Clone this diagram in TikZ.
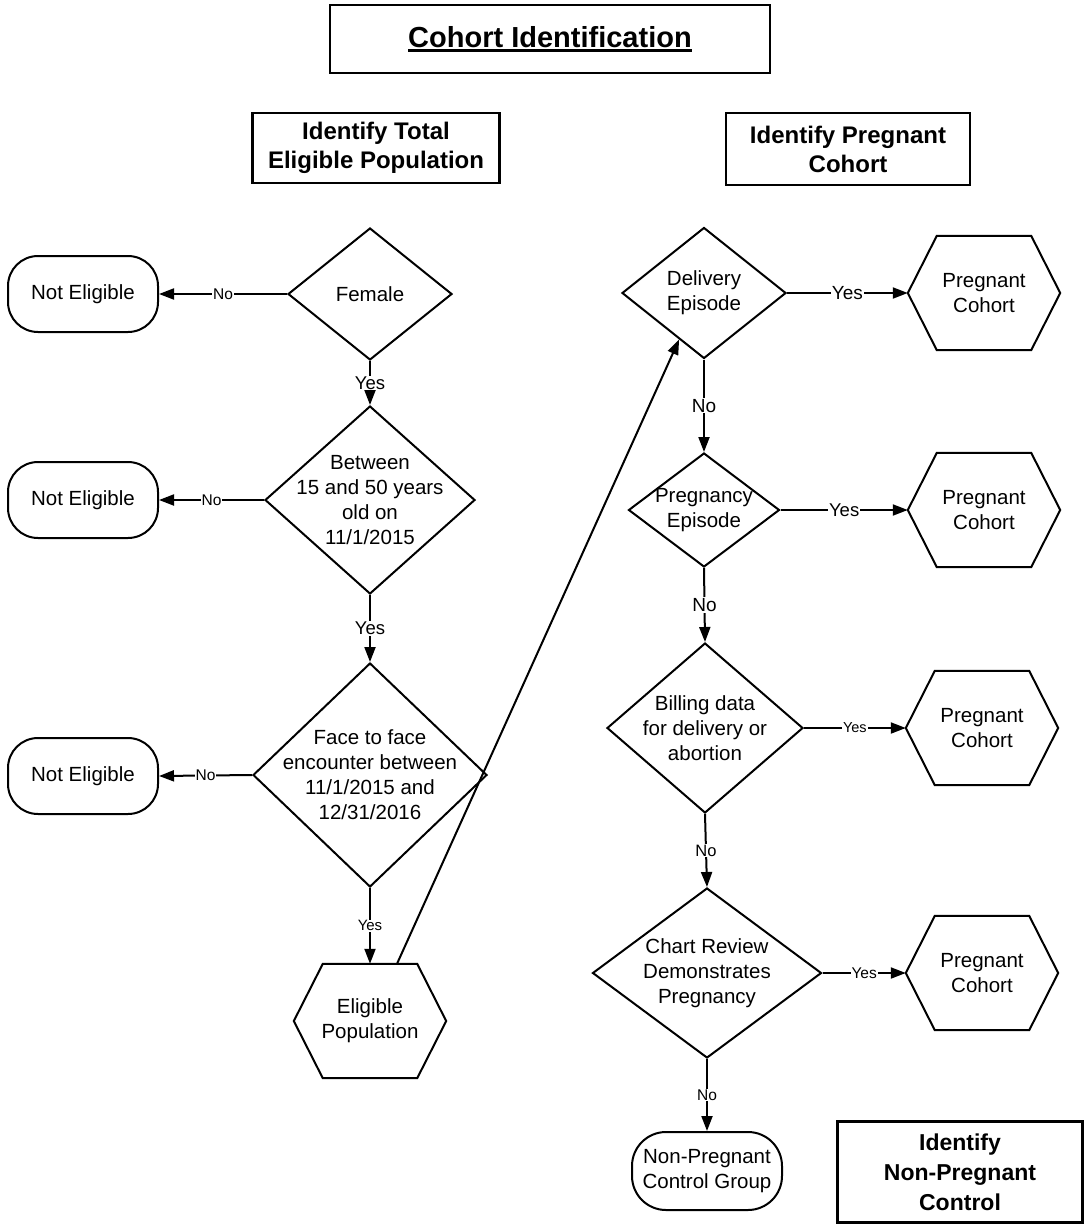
\documentclass[tikz,border=0pt]{standalone}
\usepackage{fontspec}
\setmainfont{Liberation Sans}
\usetikzlibrary{shapes.geometric,arrows.meta,calc}
\newcommand{\bodyf}{\fontsize{20.5pt}{25pt}\selectfont}
\newcommand{\headf}{\bfseries\fontsize{24pt}{29pt}\selectfont}
\newcommand{\headg}{\bfseries\fontsize{23pt}{30pt}\selectfont}
\newcommand{\titlef}{\bfseries\fontsize{29pt}{33pt}\selectfont}
\newcommand{\myuline}[1]{\setbox0\hbox{#1}\rlap{\rule[-4.5pt]{\wd0}{2.4pt}}\box0}
\newcommand{\hexoutline}[1]{\draw[line width=2pt,line join=miter] ($(#1.north west)+(29,0)$) -- ($(#1.north east)+(-29,0)$) -- (#1.east) -- ($(#1.south east)+(-29,0)$) -- ($(#1.south west)+(29,0)$) -- (#1.west) -- cycle;}
\begin{document}
\begin{tikzpicture}[x=1pt,y=-1pt,
  arr/.style={line width=2pt,-{Triangle[length=15pt,width=11pt]}},
  dia/.style={diamond,draw,line width=2pt,inner sep=0pt},
  term/.style={rectangle,draw,line width=2pt,rounded corners=30pt,minimum width=150pt,minimum height=76pt,align=center,font=\bodyf,inner sep=0pt},
  hexa/.style={rectangle,inner sep=0pt,minimum width=152pt,minimum height=114pt,align=center,font=\bodyf},
  hdr/.style={rectangle,draw,line width=2.4pt,align=center,inner sep=0pt},
  dtext/.style={font=\bodyf,align=center,inner sep=0pt},
  lab/.style={fill=white,inner sep=1pt}]

\useasboundingbox[fill=white] (0,0) rectangle (1086,1226);

% headers
\node[hdr,minimum width=440pt,minimum height=68pt,font=\titlef] (title) at (550,39) {\myuline{Cohort Identification}};
\node[hdr,minimum width=247pt,minimum height=70pt,font=\headf] (hdrtot) at (376,148) {Identify Total\\Eligible Population};
\node[hdr,minimum width=244pt,minimum height=72pt,font=\headf] (hdrpreg) at (848,149) {Identify Pregnant\\Cohort};
\node[hdr,minimum width=245pt,minimum height=101pt,font=\headg] (hdrctrl) at (960,1172) {Identify\\Non-Pregnant\\Control};

% left column
\node[dia,minimum width=164pt,minimum height=132pt,label={[dtext]center:{Female}}] (female) at (370,294) {};
\node[dia,minimum width=210pt,minimum height=188pt,label={[dtext]center:{Between\\15 and 50 years\\old on\\11/1/2015}}] (age) at (370,500) {};
\node[dia,minimum width=234pt,minimum height=224pt,label={[dtext]center:{Face to face\\encounter between\\11/1/2015 and\\12/31/2016}}] (face) at (370,775) {};
\node[term] (ne1) at (83,294) {Not Eligible};
\node[term] (ne2) at (83,500) {Not Eligible};
\node[term] (ne3) at (83,776) {Not Eligible};
\node[hexa] (elig) at (370,1021) {Eligible\\Population};
\hexoutline{elig}

% right column
\node[dia,minimum width=164pt,minimum height=131pt,label={[dtext]center:{Delivery\\Episode}}] (deliv) at (704,293) {};
\node[dia,minimum width=151pt,minimum height=114pt,label={[dtext]center:{Pregnancy\\Episode}}] (pregep) at (704,510) {};
\node[dia,minimum width=196pt,minimum height=170pt,label={[dtext]center:{Billing data\\for delivery or\\abortion}}] (bill) at (705,728) {};
\node[dia,minimum width=229pt,minimum height=170pt,label={[dtext]center:{Chart Review\\Demonstrates\\Pregnancy}}] (chart) at (707,973) {};
\node[hexa] (pc1) at (984,293) {Pregnant\\Cohort};
\node[hexa] (pc2) at (984,510) {Pregnant\\Cohort};
\node[hexa] (pc3) at (982,728) {Pregnant\\Cohort};
\node[hexa] (pc4) at (982,973) {Pregnant\\Cohort};
\hexoutline{pc1}
\hexoutline{pc2}
\hexoutline{pc3}
\hexoutline{pc4}
\node[term,rounded corners=34pt,minimum height=78pt] (nonpreg) at (707,1171) {Non-Pregnant\\Control Group};

% connectors left
\draw[arr] (female.west) -- node[lab,font=\fontsize{15.5pt}{18pt}\selectfont]{No} (ne1.east);
\draw[arr] (age.west) -- node[lab,font=\fontsize{15.5pt}{18pt}\selectfont]{No} (ne2.east);
\draw[arr] (face.west) -- node[lab,font=\fontsize{15.5pt}{18pt}\selectfont]{No} (ne3.east);
\draw[arr] (female.south) -- node[lab,font=\fontsize{18.5pt}{20pt}\selectfont]{Yes} (age.north);
\draw[arr] (age.south) -- node[lab,font=\fontsize{18.5pt}{20pt}\selectfont]{Yes} (face.north);
\draw[arr] (face.south) -- node[lab,font=\fontsize{15pt}{18pt}\selectfont]{Yes} (elig.north);
\coordinate (eligtop) at ($(elig.north)+(27,0)$);
\coordinate (delivin) at ($(deliv.west)!0.7!(deliv.south)$);
\draw[arr] (eligtop) -- (delivin);

% connectors right
\draw[arr] (deliv.east) -- node[lab,font=\fontsize{19pt}{20pt}\selectfont]{Yes} (pc1.west);
\draw[arr] (deliv.south) -- node[lab,font=\fontsize{19pt}{20pt}\selectfont]{No} (pregep.north);
\draw[arr] (pregep.east) -- node[lab,font=\fontsize{18.5pt}{20pt}\selectfont]{Yes} (pc2.west);
\draw[arr] (pregep.south) -- node[lab,font=\fontsize{19pt}{20pt}\selectfont]{No} (bill.north);
\draw[arr] (bill.east) -- node[lab,font=\fontsize{14.5pt}{17pt}\selectfont]{Yes} (pc3.west);
\draw[arr] (bill.south) -- node[lab,font=\fontsize{16.5pt}{18pt}\selectfont]{No} (chart.north);
\draw[arr] (chart.east) -- node[lab,font=\fontsize{15.5pt}{18pt}\selectfont]{Yes} (pc4.west);
\draw[arr] (chart.south) -- node[lab,font=\fontsize{15.5pt}{18pt}\selectfont]{No} (nonpreg.north);
\end{tikzpicture}
\end{document}
